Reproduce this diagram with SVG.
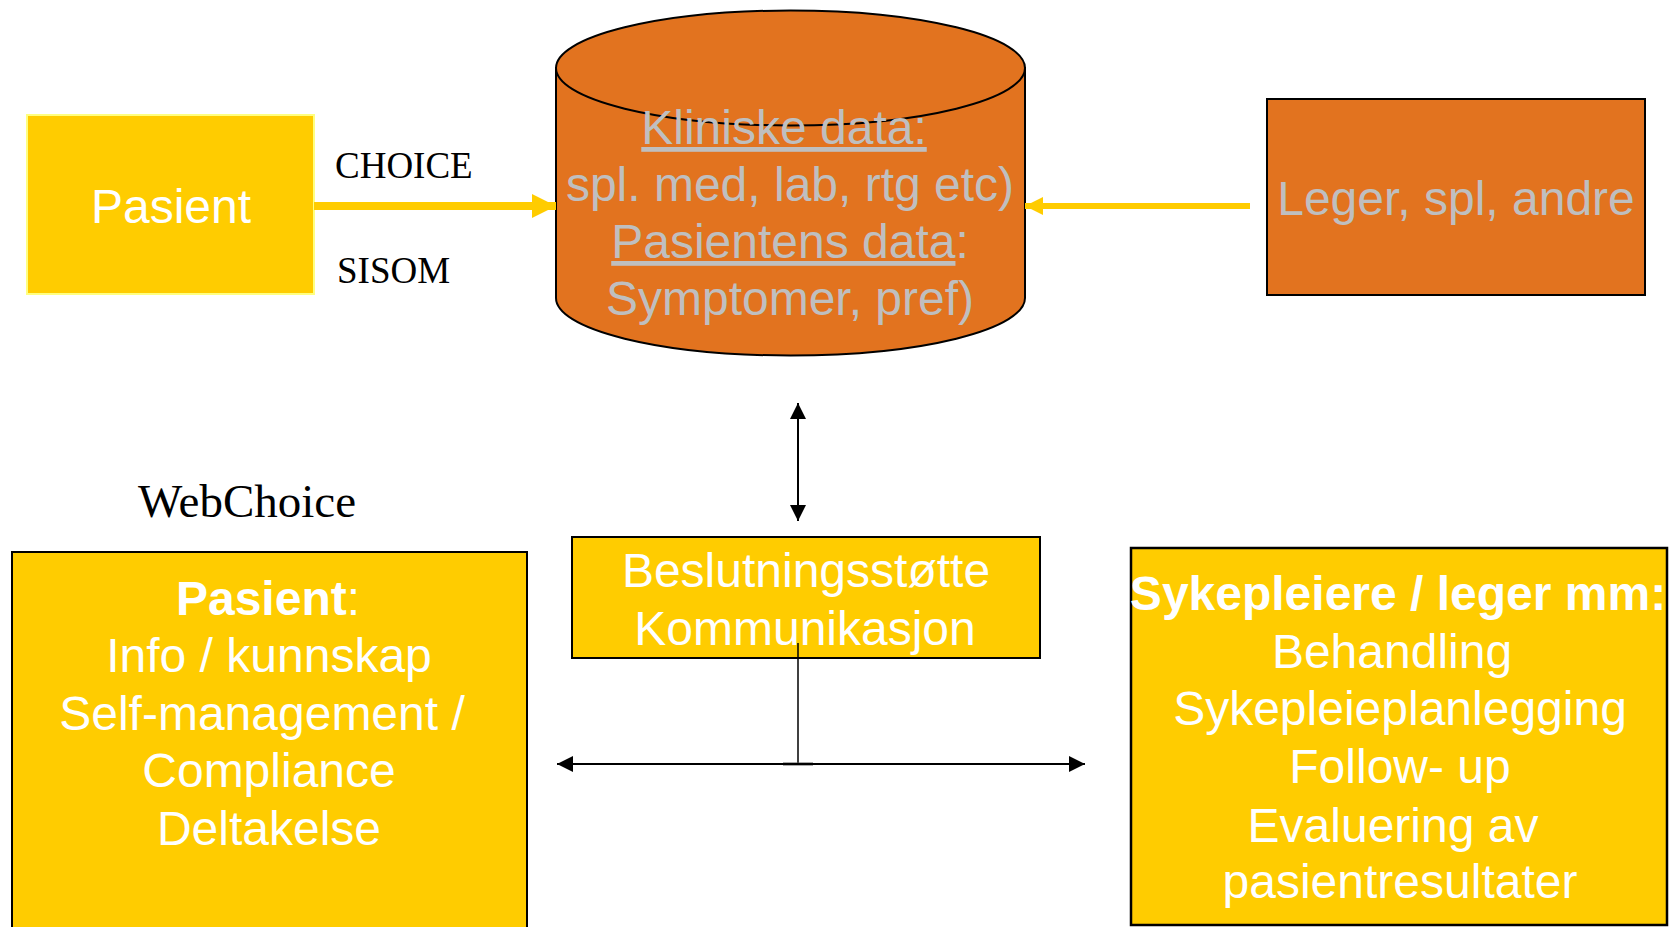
<svg xmlns="http://www.w3.org/2000/svg" width="1670" height="927" viewBox="0 0 1670 927">
<style>
.sans{font-family:"Liberation Sans",Arial,sans-serif;font-size:48px;text-anchor:middle}
.serif{font-family:"Liberation Serif","Times New Roman",serif;fill:#000}
.white{fill:#FFFFFF}
.gray{fill:#BFBFBF}
.yel{fill:#FFCC00}
.org{fill:#E2731F}
.ul{text-decoration:underline}
.b{font-weight:bold}
</style>
<defs>
<marker id="ya" viewBox="0 0 3 3" refX="3" refY="1.5" markerWidth="3" markerHeight="3" markerUnits="strokeWidth" orient="auto-start-reverse"><path d="M0,0 L3,1.5 L0,3 z" fill="#FFCC00"/></marker>
<marker id="ba" viewBox="0 0 16 16" refX="16" refY="8" markerWidth="16" markerHeight="16" markerUnits="userSpaceOnUse" orient="auto-start-reverse"><path d="M0,0 L16,8 L0,16 z" fill="#000"/></marker>
</defs>

<g id="pasient">
<rect x="27" y="115" width="287" height="179" class="yel" stroke="#FFFF80" stroke-width="2"/>
<text x="171" y="223" class="sans white">Pasient</text>
</g>

<g id="labels">
<text x="335" y="178" class="serif" font-size="37">CHOICE</text>
<text x="337" y="283" class="serif" font-size="37">SISOM</text>
<text x="138" y="517" class="serif" font-size="47">WebChoice</text>
</g>

<g id="database">
<path d="M556 68 L556 298 A234.5 57.5 0 0 0 1025 298 L1025 68 Z" class="org" stroke="#000" stroke-width="2"/>
<ellipse cx="790.5" cy="68" rx="234.5" ry="57.5" class="org" stroke="#000" stroke-width="2"/>
<text x="784" y="144" class="sans gray"><tspan class="ul">Kliniske data:</tspan></text>
<text x="790" y="201" class="sans gray">spl. med, lab, rtg etc)</text>
<text x="790" y="258" class="sans gray"><tspan class="ul">Pasientens data</tspan>:</text>
<text x="790" y="315" class="sans gray">Symptomer, pref)</text>
</g>

<g id="leger">
<rect x="1267" y="99" width="378" height="196" class="org" stroke="#000" stroke-width="2"/>
<text x="1456" y="215" class="sans gray">Leger, spl, andre</text>
</g>

<g id="webchoice-pasient">
<rect x="12" y="552" width="515" height="390" class="yel" stroke="#000" stroke-width="2"/>
<text x="268" y="615" class="sans white"><tspan class="b">Pasient</tspan>:</text>
<text x="269" y="672" class="sans white">Info / kunnskap</text>
<text x="262" y="730" class="sans white">Self-management /</text>
<text x="269" y="787" class="sans white">Compliance</text>
<text x="269" y="845" class="sans white">Deltakelse</text>
</g>

<g id="beslutning">
<rect x="572" y="537" width="468" height="121" class="yel" stroke="#000" stroke-width="2"/>
<text x="806" y="587" class="sans white">Beslutningsstøtte</text>
<text x="805" y="645" class="sans white">Kommunikasjon</text>
</g>

<g id="sykepleiere">
<rect x="1131" y="548" width="536" height="377" class="yel" stroke="#000" stroke-width="2.5"/>
<text x="1398" y="610" class="sans white b">Sykepleiere / leger mm:</text>
<text x="1392" y="668" class="sans white">Behandling</text>
<text x="1400" y="725" class="sans white">Sykepleieplanlegging</text>
<text x="1400" y="783" class="sans white">Follow- up</text>
<text x="1393" y="842" class="sans white">Evaluering av</text>
<text x="1400" y="898" class="sans white">pasientresultater</text>
</g>

<g id="connectors">
<line x1="314" y1="206" x2="556" y2="206" stroke="#FFCC00" stroke-width="8" marker-end="url(#ya)"/>
<line x1="1250" y1="206" x2="1025" y2="206" stroke="#FFCC00" stroke-width="6" marker-end="url(#ya)"/>
<line x1="798" y1="403" x2="798" y2="521" stroke="#000" stroke-width="2" marker-start="url(#ba)" marker-end="url(#ba)"/>
<line x1="798" y1="643" x2="798" y2="764" stroke="#000" stroke-width="1.5"/>
<line x1="783" y1="764" x2="813" y2="764" stroke="#555" stroke-width="3"/>
<line x1="557" y1="764" x2="1085" y2="764" stroke="#000" stroke-width="2" marker-start="url(#ba)" marker-end="url(#ba)"/>
</g>
</svg>
